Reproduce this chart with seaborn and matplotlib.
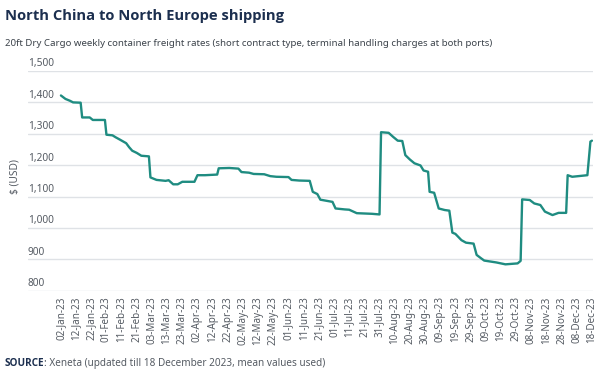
import matplotlib
matplotlib.use("Agg")
import matplotlib.pyplot as plt
import matplotlib.transforms as mtrans
import seaborn as sns
import pandas as pd

# ---- data ----
dates = [
    "2023-01-02", "2023-01-05", "2023-01-08", "2023-01-10", "2023-01-15", "2023-01-16",
    "2023-01-21", "2023-01-23", "2023-01-31", "2023-02-01", "2023-02-05", "2023-02-07",
    "2023-02-10", "2023-02-14", "2023-02-16", "2023-02-18", "2023-02-21", "2023-02-24",
    "2023-03-01", "2023-03-02", "2023-03-06", "2023-03-12", "2023-03-14", "2023-03-17",
    "2023-03-20", "2023-03-23", "2023-03-31", "2023-04-02", "2023-04-07", "2023-04-15",
    "2023-04-16", "2023-04-23", "2023-04-29", "2023-05-01", "2023-05-06", "2023-05-09",
    "2023-05-16", "2023-05-20", "2023-05-24", "2023-06-01", "2023-06-03", "2023-06-08",
    "2023-06-15", "2023-06-17", "2023-06-20", "2023-06-22", "2023-06-30", "2023-07-02",
    "2023-07-08", "2023-07-11", "2023-07-16", "2023-07-21", "2023-07-26", "2023-07-31",
    "2023-08-01", "2023-08-06", "2023-08-09", "2023-08-12", "2023-08-15", "2023-08-17",
    "2023-08-20", "2023-08-23", "2023-08-27", "2023-08-29", "2023-09-01", "2023-09-02",
    "2023-09-05", "2023-09-08", "2023-09-12", "2023-09-15", "2023-09-17", "2023-09-19",
    "2023-09-23", "2023-09-26", "2023-10-01", "2023-10-03", "2023-10-06", "2023-10-08",
    "2023-10-16", "2023-10-22", "2023-10-30", "2023-11-01", "2023-11-02", "2023-11-07",
    "2023-11-10", "2023-11-14", "2023-11-17", "2023-11-22", "2023-11-26", "2023-12-01",
    "2023-12-02", "2023-12-05", "2023-12-11", "2023-12-15", "2023-12-17", "2023-12-18",
]
rates = [
    1422, 1411, 1405, 1400, 1399, 1352,
    1352, 1344, 1344, 1297, 1295, 1289,
    1281, 1270, 1257, 1246, 1239, 1230,
    1228, 1161, 1153, 1150, 1152, 1139,
    1139, 1147, 1147, 1168, 1168, 1170,
    1190, 1191, 1189, 1178, 1176, 1172,
    1171, 1165, 1163, 1162, 1153, 1151,
    1150, 1115, 1108, 1090, 1083, 1062,
    1059, 1058, 1047, 1046, 1045, 1043,
    1305, 1303, 1290, 1278, 1277, 1232,
    1218, 1206, 1199, 1183, 1179, 1115,
    1112, 1062, 1057, 1055, 985, 981,
    961, 953, 950, 914, 903, 896,
    890, 884, 887, 895, 1091, 1089,
    1078, 1073, 1052, 1041, 1048, 1048,
    1168, 1163, 1166, 1168, 1275, 1278,
]
y_ticks = [800, 900, 1000, 1100, 1200, 1300, 1400, 1500]
x_tick_start, x_tick_end, x_tick_step_days = "2023-01-02", "2023-12-18", 10

title = "North China to North Europe shipping"
subtitle = ("20ft Dry Cargo weekly container freight rates (short contract type, "
            "terminal handling charges at both ports)")
y_label = "$ (USD)"
source_bold = "SOURCE"
source_rest = ": Xeneta (updated till 18 December 2023, mean values used)"

df = pd.DataFrame({"date": pd.to_datetime(dates), "rate": rates})

# ---- style ----
sns.set_theme(style="white")
plt.rcParams["font.family"] = ["Noto Sans", "DejaVu Sans"]

LINE = "#1f8c81"
NAVY = "#1c2f4f"
TEXT = "#555b63"
GRID = "#dfe2e6"

fig = plt.figure(figsize=(6.0, 3.73), dpi=100)
ax = fig.add_axes([28 / 600, 1 - 290.7 / 373, 565 / 600, (290.7 - 71) / 373])

sns.lineplot(data=df, x="date", y="rate", ax=ax, color=LINE, linewidth=1.7)

ax.set_ylim(800, 1500)
start = pd.Timestamp("2023-01-02")
ax.set_xlim(start - pd.Timedelta(days=21.7), start + pd.Timedelta(days=350.7))

ax.set_yticks(y_ticks)
ax.set_yticklabels([f"{v:,}" for v in y_ticks])
ax.tick_params(axis="y", length=0, pad=0, labelsize=7.3, labelcolor=TEXT)
off = mtrans.ScaledTranslation(0, 1.5 / 100, fig.dpi_scale_trans)
for lbl in ax.get_yticklabels():
    lbl.set_horizontalalignment("left")
    lbl.set_verticalalignment("bottom")
    lbl.set_transform(lbl.get_transform() + off)

xt = pd.date_range(x_tick_start, x_tick_end, freq=f"{x_tick_step_days}D")
ax.set_xticks(xt)
ax.set_xticklabels([d.strftime("%d-%b-%y") for d in xt], rotation=90)
ax.tick_params(axis="x", length=0, pad=4, labelsize=7.1, labelcolor=TEXT)

ax.grid(axis="y", color=GRID, linewidth=1.0)
ax.grid(axis="x", visible=False)
for s in ax.spines.values():
    s.set_visible(False)
ax.set_xlabel("")
ax.set_ylabel("")

fig.text(15 / 600, 1 - 177 / 373, y_label, rotation=90, ha="center", va="center",
         fontsize=7.3, color=TEXT)

fig.text(5 / 600, 1 - 20 / 373, title, fontsize=10.6, fontweight="bold",
         family=["Open Sans", "DejaVu Sans"], color=NAVY, va="baseline", ha="left")
fig.text(5 / 600, 1 - 46 / 373, subtitle, fontsize=6.95, color="#3c434b",
         va="baseline", ha="left")

t1 = fig.text(5 / 600, 1 - 366 / 373, source_bold, fontsize=7.2, fontweight="bold",
              family=["Open Sans", "DejaVu Sans"], color=NAVY, va="baseline", ha="left")
fig.canvas.draw()
bb = t1.get_window_extent()
fig.text((bb.x1 - 1) / fig.bbox.width, 1 - 366 / 373, source_rest, fontsize=7.2,
         color=TEXT, va="baseline", ha="left")

fig.savefig("out.png", dpi=100)
